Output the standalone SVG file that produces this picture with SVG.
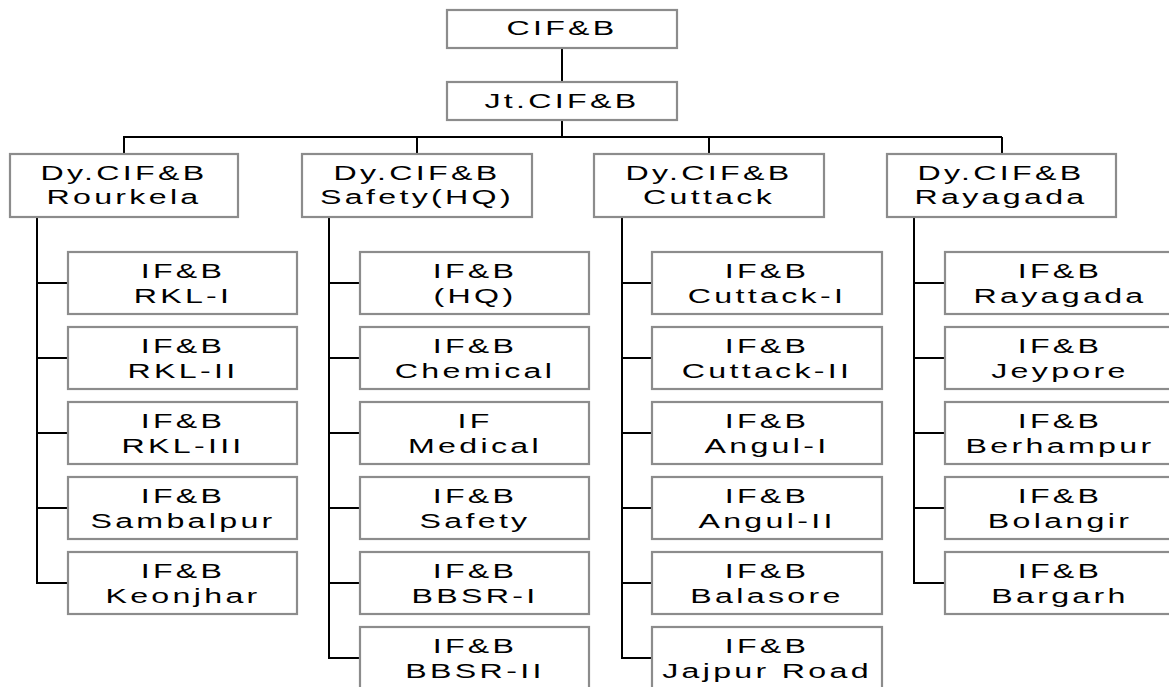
<svg xmlns="http://www.w3.org/2000/svg" width="1169" height="687" viewBox="0 0 1169 687">
<style>
.box{fill:#fff;stroke:#8c8c8c;stroke-width:2.2}
.t{font-family:"Liberation Sans",Arial,sans-serif;font-size:19.5px;fill:#000;text-anchor:middle;letter-spacing:2px}
.ln{fill:none;stroke:#000;stroke-width:2}
</style>
<rect width="1169" height="687" fill="#fff"/>
<g id="connectors" class="ln">
<path d="M562 48V82M562 120V137M123 137H1002M124 137V154M417 137V154M709 137V154M1002 137V154"/>
<path d="M37 217V584M37 283H68M37 358H68M37 433H68M37 508H68M37 583H68"/>
<path d="M329 217V659M329 283H360M329 358H360M329 433H360M329 508H360M329 583H360M329 658H360"/>
<path d="M622 217V659M622 283H652M622 358H652M622 433H652M622 508H652M622 583H652M622 658H652"/>
<path d="M914 217V584M914 283H945M914 358H945M914 433H945M914 508H945M914 583H945"/>
</g>
<g id="n-cifb"><rect class="box" x="447" y="10" width="230" height="38"/><text class="t" transform="translate(562,35) scale(1.65,1)">CIF&amp;B</text></g>
<g id="n-jtcifb"><rect class="box" x="447" y="82" width="230" height="38"/><text class="t" transform="translate(562,108) scale(1.65,1)">Jt.CIF&amp;B</text></g>
<g id="n-dy-rourkela"><rect class="box" x="10" y="154" width="228" height="63"/><text class="t" transform="translate(124,180) scale(1.65,1)">Dy.CIF&amp;B</text><text class="t" transform="translate(124,204) scale(1.65,1)">Rourkela</text></g>
<g id="n-dy-safety"><rect class="box" x="302" y="154" width="230" height="63"/><text class="t" transform="translate(417,180) scale(1.65,1)">Dy.CIF&amp;B</text><text class="t" transform="translate(417,204) scale(1.65,1)">Safety(HQ)</text></g>
<g id="n-dy-cuttack"><rect class="box" x="594" y="154" width="230" height="63"/><text class="t" transform="translate(709,180) scale(1.65,1)">Dy.CIF&amp;B</text><text class="t" transform="translate(709,204) scale(1.65,1)">Cuttack</text></g>
<g id="n-dy-rayagada"><rect class="box" x="887" y="154" width="229" height="63"/><text class="t" transform="translate(1001,180) scale(1.65,1)">Dy.CIF&amp;B</text><text class="t" transform="translate(1001,204) scale(1.65,1)">Rayagada</text></g>

<g id="n-rkl1"><rect class="box" x="68" y="252" width="229" height="62"/><text class="t" transform="translate(183,277.5) scale(1.65,1)">IF&amp;B</text><text class="t" transform="translate(183,302.5) scale(1.65,1)">RKL-I</text></g>
<g id="n-rkl2"><rect class="box" x="68" y="327" width="229" height="62"/><text class="t" transform="translate(183,352.5) scale(1.65,1)">IF&amp;B</text><text class="t" transform="translate(183,377.5) scale(1.65,1)">RKL-II</text></g>
<g id="n-rkl3"><rect class="box" x="68" y="402" width="229" height="62"/><text class="t" transform="translate(183,427.5) scale(1.65,1)">IF&amp;B</text><text class="t" transform="translate(183,452.5) scale(1.65,1)">RKL-III</text></g>
<g id="n-sambalpur"><rect class="box" x="68" y="477" width="229" height="62"/><text class="t" transform="translate(183,502.5) scale(1.65,1)">IF&amp;B</text><text class="t" transform="translate(183,527.5) scale(1.65,1)">Sambalpur</text></g>
<g id="n-keonjhar"><rect class="box" x="68" y="552" width="229" height="62"/><text class="t" transform="translate(183,577.5) scale(1.65,1)">IF&amp;B</text><text class="t" transform="translate(183,602.5) scale(1.65,1)">Keonjhar</text></g>

<g id="n-hq"><rect class="box" x="360" y="252" width="229" height="62"/><text class="t" transform="translate(475,277.5) scale(1.65,1)">IF&amp;B</text><text class="t" transform="translate(475,302.5) scale(1.65,1)">(HQ)</text></g>
<g id="n-chemical"><rect class="box" x="360" y="327" width="229" height="62"/><text class="t" transform="translate(475,352.5) scale(1.65,1)">IF&amp;B</text><text class="t" transform="translate(475,377.5) scale(1.65,1)">Chemical</text></g>
<g id="n-medical"><rect class="box" x="360" y="402" width="229" height="62"/><text class="t" transform="translate(475,427.5) scale(1.65,1)">IF</text><text class="t" transform="translate(475,452.5) scale(1.65,1)">Medical</text></g>
<g id="n-safety"><rect class="box" x="360" y="477" width="229" height="62"/><text class="t" transform="translate(475,502.5) scale(1.65,1)">IF&amp;B</text><text class="t" transform="translate(475,527.5) scale(1.65,1)">Safety</text></g>
<g id="n-bbsr1"><rect class="box" x="360" y="552" width="229" height="62"/><text class="t" transform="translate(475,577.5) scale(1.65,1)">IF&amp;B</text><text class="t" transform="translate(475,602.5) scale(1.65,1)">BBSR-I</text></g>
<g id="n-bbsr2"><rect class="box" x="360" y="627" width="229" height="62"/><text class="t" transform="translate(475,652.5) scale(1.65,1)">IF&amp;B</text><text class="t" transform="translate(475,677.5) scale(1.65,1)">BBSR-II</text></g>

<g id="n-cuttack1"><rect class="box" x="652" y="252" width="230" height="62"/><text class="t" transform="translate(767,277.5) scale(1.65,1)">IF&amp;B</text><text class="t" transform="translate(767,302.5) scale(1.65,1)">Cuttack-I</text></g>
<g id="n-cuttack2"><rect class="box" x="652" y="327" width="230" height="62"/><text class="t" transform="translate(767,352.5) scale(1.65,1)">IF&amp;B</text><text class="t" transform="translate(767,377.5) scale(1.65,1)">Cuttack-II</text></g>
<g id="n-angul1"><rect class="box" x="652" y="402" width="230" height="62"/><text class="t" transform="translate(767,427.5) scale(1.65,1)">IF&amp;B</text><text class="t" transform="translate(767,452.5) scale(1.65,1)">Angul-I</text></g>
<g id="n-angul2"><rect class="box" x="652" y="477" width="230" height="62"/><text class="t" transform="translate(767,502.5) scale(1.65,1)">IF&amp;B</text><text class="t" transform="translate(767,527.5) scale(1.65,1)">Angul-II</text></g>
<g id="n-balasore"><rect class="box" x="652" y="552" width="230" height="62"/><text class="t" transform="translate(767,577.5) scale(1.65,1)">IF&amp;B</text><text class="t" transform="translate(767,602.5) scale(1.65,1)">Balasore</text></g>
<g id="n-jajpur"><rect class="box" x="652" y="627" width="230" height="62"/><text class="t" transform="translate(767,652.5) scale(1.65,1)">IF&amp;B</text><text class="t" transform="translate(767,677.5) scale(1.65,1)">Jajpur Road</text></g>

<g id="n-rayagada"><rect class="box" x="945" y="252" width="230" height="62"/><text class="t" transform="translate(1060,277.5) scale(1.65,1)">IF&amp;B</text><text class="t" transform="translate(1060,302.5) scale(1.65,1)">Rayagada</text></g>
<g id="n-jeypore"><rect class="box" x="945" y="327" width="230" height="62"/><text class="t" transform="translate(1060,352.5) scale(1.65,1)">IF&amp;B</text><text class="t" transform="translate(1060,377.5) scale(1.65,1)">Jeypore</text></g>
<g id="n-berhampur"><rect class="box" x="945" y="402" width="230" height="62"/><text class="t" transform="translate(1060,427.5) scale(1.65,1)">IF&amp;B</text><text class="t" transform="translate(1060,452.5) scale(1.65,1)">Berhampur</text></g>
<g id="n-bolangir"><rect class="box" x="945" y="477" width="230" height="62"/><text class="t" transform="translate(1060,502.5) scale(1.65,1)">IF&amp;B</text><text class="t" transform="translate(1060,527.5) scale(1.65,1)">Bolangir</text></g>
<g id="n-bargarh"><rect class="box" x="945" y="552" width="230" height="62"/><text class="t" transform="translate(1060,577.5) scale(1.65,1)">IF&amp;B</text><text class="t" transform="translate(1060,602.5) scale(1.65,1)">Bargarh</text></g>
</svg>
